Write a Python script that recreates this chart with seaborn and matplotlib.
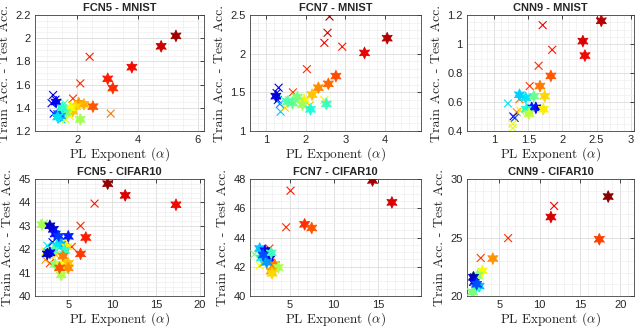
import matplotlib
matplotlib.use('Agg')
from matplotlib import pyplot as plt
from matplotlib.ticker import AutoMinorLocator, FuncFormatter
import seaborn as sns

# FCN5 - MNIST
fcn5_mnist_star_alpha = [5.27, 4.78, 3.81, 3.01, 3.18, 2.52, 2.10, 2.05, 2.22, 1.95, 1.85, 1.78, 1.62, 1.45, 1.38, 1.30, 1.35, 1.50]
fcn5_mnist_star_gap = [2.02, 1.93, 1.75, 1.65, 1.57, 1.41, 1.30, 1.44, 1.43, 1.41, 1.37, 1.40, 1.36, 1.33, 1.35, 1.45, 1.32, 1.40]
fcn5_mnist_star_c = [0.97, 0.93, 0.90, 0.88, 0.86, 0.82, 0.55, 0.75, 0.72, 0.68, 0.70, 0.64, 0.50, 0.30, 0.22, 0.10, 0.35, 0.40]
fcn5_mnist_x_alpha = [2.41, 2.10, 1.86, 3.11, 1.20, 1.28, 1.15, 1.22, 1.35, 1.48, 1.58, 1.70, 1.62, 1.82, 1.75, 1.45]
fcn5_mnist_x_gap = [1.84, 1.61, 1.48, 1.35, 1.51, 1.47, 1.44, 1.35, 1.33, 1.30, 1.44, 1.38, 1.30, 1.42, 1.33, 1.40]
fcn5_mnist_x_c = [0.88, 0.86, 0.85, 0.78, 0.10, 0.05, 0.08, 0.12, 0.20, 0.32, 0.45, 0.55, 0.60, 0.70, 0.65, 0.38]

# FCN7 - MNIST
fcn7_mnist_star_alpha = [4.05, 3.48, 2.76, 2.57, 2.32, 2.16, 1.96, 1.79, 1.67, 1.92, 2.12, 2.52, 1.25, 1.55]
fcn7_mnist_star_gap = [2.20, 2.01, 1.71, 1.61, 1.56, 1.47, 1.40, 1.44, 1.36, 1.34, 1.28, 1.35, 1.45, 1.38]
fcn7_mnist_star_c = [0.95, 0.91, 0.83, 0.80, 0.76, 0.70, 0.65, 0.50, 0.48, 0.55, 0.38, 0.42, 0.08, 0.45]
fcn7_mnist_x_alpha = [2.60, 2.55, 2.47, 2.92, 2.03, 1.68, 1.32, 1.27, 1.30, 1.35, 1.37, 1.46, 1.58, 1.48, 2.10, 2.47]
fcn7_mnist_x_gap = [2.48, 2.27, 2.14, 2.09, 1.80, 1.50, 1.56, 1.49, 1.40, 1.35, 1.25, 1.40, 1.40, 1.30, 1.33, 1.40]
fcn7_mnist_x_c = [0.98, 0.92, 0.90, 0.88, 0.86, 0.84, 0.12, 0.08, 0.15, 0.25, 0.32, 0.40, 0.50, 0.68, 0.72, 0.66]

# CNN9 - MNIST
cnn9_mnist_star_alpha = [2.57, 2.30, 2.33, 1.83, 1.67, 1.74, 1.58, 1.46, 1.37, 1.61, 1.55, 1.47, 1.72, 1.51]
cnn9_mnist_star_gap = [1.16, 1.02, 0.92, 0.78, 0.71, 0.64, 0.64, 0.63, 0.65, 0.56, 0.56, 0.55, 0.55, 0.52]
cnn9_mnist_star_c = [0.95, 0.92, 0.90, 0.82, 0.78, 0.68, 0.48, 0.35, 0.33, 0.10, 0.15, 0.38, 0.66, 0.58]
cnn9_mnist_x_alpha = [1.71, 1.85, 1.65, 1.52, 1.37, 1.20, 1.33, 1.38, 1.28, 1.30, 1.27, 1.27]
cnn9_mnist_x_gap = [1.13, 0.96, 0.85, 0.71, 0.62, 0.59, 0.53, 0.54, 0.50, 0.49, 0.45, 0.42]
cnn9_mnist_x_c = [0.90, 0.88, 0.86, 0.85, 0.80, 0.35, 0.75, 0.66, 0.12, 0.18, 0.65, 0.62]

# FCN5 - CIFAR10
fcn5_cifar_star_alpha = [9.5, 11.5, 17.3, 7.0, 6.4, 5.0, 2.0, 2.9, 3.3, 3.5, 3.9, 4.2, 4.8, 4.6, 4.4, 3.5, 4.2, 4.2, 5.0, 5.0, 4.0, 3.7, 3.3, 2.9, 2.6]
fcn5_cifar_star_gap = [44.8, 44.3, 43.9, 42.5, 41.8, 42.55, 43.05, 43.0, 42.85, 42.65, 42.55, 42.2, 42.1, 41.95, 41.7, 41.35, 41.3, 40.9, 41.4, 41.2, 41.2, 42.15, 41.95, 41.85, 41.8]
fcn5_cifar_star_c = [0.98, 0.92, 0.90, 0.88, 0.85, 0.15, 0.55, 0.05, 0.08, 0.14, 0.18, 0.30, 0.66, 0.40, 0.78, 0.52, 0.64, 0.56, 0.70, 0.76, 0.82, 0.35, 0.45, 0.12, 0.06]
fcn5_cifar_x_alpha = [8.0, 6.4, 5.4, 2.9, 2.4, 2.4, 2.6, 4.6, 2.2, 3.6, 3.2]
fcn5_cifar_x_gap = [43.95, 43.0, 42.1, 41.4, 41.55, 41.9, 42.15, 42.35, 43.1, 41.75, 42.3]
fcn5_cifar_x_c = [0.88, 0.87, 0.84, 0.85, 0.75, 0.66, 0.35, 0.65, 0.55, 0.70, 0.10]

# FCN7 - CIFAR10
fcn7_cifar_star_alpha = [14.4, 16.6, 6.7, 7.5, 1.6, 2.2, 2.5, 2.75, 2.9, 1.8, 3.3, 3.7, 2.9, 3.0, 2.4, 2.0]
fcn7_cifar_star_gap = [47.9, 46.4, 44.9, 44.65, 43.25, 43.1, 42.95, 42.55, 42.95, 42.6, 42.15, 41.95, 41.7, 41.55, 42.3, 42.8]
fcn7_cifar_star_c = [0.97, 0.92, 0.86, 0.82, 0.32, 0.12, 0.06, 0.10, 0.42, 0.36, 0.78, 0.56, 0.74, 0.68, 0.28, 0.20]
fcn7_cifar_x_alpha = [5.1, 4.6, 1.0, 1.6, 2.0, 2.7, 2.4, 1.8]
fcn7_cifar_x_gap = [47.2, 44.7, 42.85, 42.1, 42.25, 43.25, 42.5, 42.7]
fcn7_cifar_x_c = [0.88, 0.86, 0.50, 0.64, 0.74, 0.85, 0.70, 0.40]

# CNN9 - CIFAR10
cnn9_cifar_star_alpha = [18.5, 11.4, 17.4, 4.2, 2.9, 2.3, 1.8, 1.9, 2.5, 2.1, 1.7, 2.2]
cnn9_cifar_star_gap = [28.5, 26.75, 24.85, 23.2, 22.15, 21.75, 21.6, 21.15, 20.85, 20.7, 20.35, 21.0]
cnn9_cifar_star_c = [0.99, 0.92, 0.84, 0.75, 0.64, 0.52, 0.05, 0.12, 0.30, 0.40, 0.50, 0.20]
cnn9_cifar_x_alpha = [11.8, 6.1, 2.7, 1.9, 1.5, 1.9]
cnn9_cifar_x_gap = [27.7, 24.95, 23.25, 21.3, 20.3, 21.6]
cnn9_cifar_x_c = [0.90, 0.86, 0.84, 0.78, 0.58, 0.10]

titles = ['FCN5 - MNIST', 'FCN7 - MNIST', 'CNN9 - MNIST',
          'FCN5 - CIFAR10', 'FCN7 - CIFAR10', 'CNN9 - CIFAR10']


def fmt(v, pos):
    return '{:g}'.format(round(v, 6))


if __name__ == '__main__':
    sns.set_style('white')
    plt.rcParams['font.family'] = ['Liberation Sans', 'DejaVu Sans']
    plt.rcParams['mathtext.fontset'] = 'cm'
    jet = matplotlib.colormaps['jet']

    panels = [
        (fcn5_mnist_star_alpha, fcn5_mnist_star_gap, fcn5_mnist_star_c, fcn5_mnist_x_alpha, fcn5_mnist_x_gap, fcn5_mnist_x_c,
         (0.6, 6.2), (1.2, 2.2), [2, 4, 6], [1.2, 1.4, 1.6, 1.8, 2.0, 2.2]),
        (fcn7_mnist_star_alpha, fcn7_mnist_star_gap, fcn7_mnist_star_c, fcn7_mnist_x_alpha, fcn7_mnist_x_gap, fcn7_mnist_x_c,
         (0.6, 4.9), (1.0, 2.5), [1, 2, 3, 4], [1, 1.5, 2, 2.5]),
        (cnn9_mnist_star_alpha, cnn9_mnist_star_gap, cnn9_mnist_star_c, cnn9_mnist_x_alpha, cnn9_mnist_x_gap, cnn9_mnist_x_c,
         (0.6, 3.05), (0.4, 1.2), [1, 1.5, 2, 2.5, 3], [0.4, 0.6, 0.8, 1.0, 1.2]),
        (fcn5_cifar_star_alpha, fcn5_cifar_star_gap, fcn5_cifar_star_c, fcn5_cifar_x_alpha, fcn5_cifar_x_gap, fcn5_cifar_x_c,
         (1.2, 20.5), (40, 45), [5, 10, 15, 20], [40, 41, 42, 43, 44, 45]),
        (fcn7_cifar_star_alpha, fcn7_cifar_star_gap, fcn7_cifar_star_c, fcn7_cifar_x_alpha, fcn7_cifar_x_gap, fcn7_cifar_x_c,
         (0.5, 19.9), (40, 48), [5, 10, 15], [40, 42, 44, 46, 48]),
        (cnn9_cifar_star_alpha, cnn9_cifar_star_gap, cnn9_cifar_star_c, cnn9_cifar_x_alpha, cnn9_cifar_x_gap, cnn9_cifar_x_c,
         (1.0, 21.7), (20, 30), [5, 10, 15, 20], [20, 25, 30]),
    ]

    fig = plt.figure(figsize=(6.4, 3.28), dpi=100)
    lefts = [35, 250, 467]
    widths = [169, 171, 167]
    tops = [15, 179]
    heights = [116, 117]

    for i, p in enumerate(panels):
        r, c = divmod(i, 3)
        rect = [lefts[c] / 640, 1 - (tops[r] + heights[r]) / 328, widths[c] / 640, heights[r] / 328]
        ax = fig.add_axes(rect)
        sa, sg, sc, xa, xg, xc, xlim, ylim, xt, yt = p

        sns.scatterplot(x=xa, y=xg, hue=xc, palette=jet, hue_norm=(0, 1), marker='x',
                        s=32, linewidth=0.8, legend=False, ax=ax, zorder=3)
        sns.scatterplot(x=sa, y=sg, hue=sc, palette=jet, hue_norm=(0, 1), marker=(6, 1, 0),
                        s=70, linewidth=0.6, edgecolor='face', legend=False, ax=ax, zorder=4)

        ax.set_xlim(*xlim)
        ax.set_ylim(*ylim)
        ax.set_xticks(xt)
        ax.set_yticks(yt)
        ax.xaxis.set_major_formatter(FuncFormatter(fmt))
        ax.yaxis.set_major_formatter(FuncFormatter(fmt))
        ax.xaxis.set_minor_locator(AutoMinorLocator())
        ax.yaxis.set_minor_locator(AutoMinorLocator())
        ax.grid(True, which='major', color='#dcdcdc', linewidth=0.6)
        ax.grid(True, which='minor', color='#eeeeee', linewidth=0.5)
        ax.set_axisbelow(True)
        ax.tick_params(which='major', direction='in', length=3, width=0.6, top=True, right=True,
                       labelsize=8, colors='#262626', pad=3)
        ax.tick_params(which='minor', length=0)
        for sp in ax.spines.values():
            sp.set_color('#404040')
            sp.set_linewidth(0.6)
        ax.set_title(titles[i], fontsize=8, fontweight='bold', pad=3)
        ax.set_xlabel(r'PL Exponent ($\alpha$)', fontfamily='cmr10', fontsize=9.5, labelpad=0)
        ax.set_ylabel('Train Acc. - Test Acc.', fontfamily='cmr10', fontsize=10, labelpad=3)

    fig.savefig('out.png', dpi=100)
